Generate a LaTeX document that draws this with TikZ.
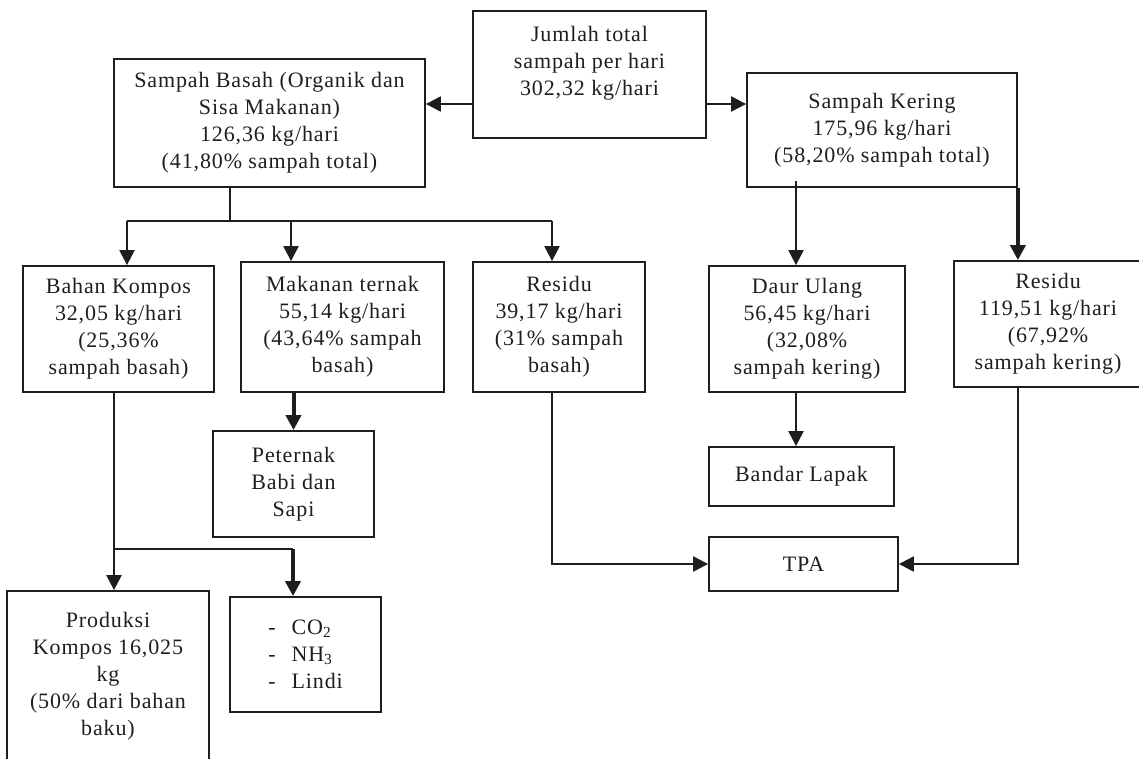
\documentclass[tikz,border=0pt]{standalone}
\usepackage{fontspec}
\setmainfont{Liberation Serif}[LetterSpace=4]
\usetikzlibrary{arrows.meta,calc}
\definecolor{ink}{HTML}{1E1E1E}
\tikzset{
 box/.style={draw=ink, line width=1.8pt, align=center, inner sep=0pt, text=ink, font=\fontsize{22}{27}\selectfont},
 conn/.style={draw=ink, line width=2.2pt},
 arr/.style={conn, -{Triangle[length=15pt,width=15pt]}},
 thickarr/.style={draw=ink, line width=4pt, -{Triangle[length=15pt,width=15pt]}},
}
\begin{document}
\begin{tikzpicture}[x=1pt,y=-1pt]
\useasboundingbox (0,0) rectangle (1139,758);
\clip (0,0) rectangle (1139,758);
\node[box, minimum width=233pt, minimum height=127pt] (jumlah) at (589.5,74.5) {Jumlah total\\sampah per hari\\302,32 kg/hari\\\mbox{}};
\node[box, minimum width=311pt, minimum height=128pt] (basah) at (269.5,123) {Sampah Basah (Organik dan\\Sisa Makanan)\\126,36 kg/hari\\(41,80\% sampah total)};
\node[box, minimum width=270pt, minimum height=114pt] (kering) at (882,130) {Sampah Kering\\175,96 kg/hari\\(58,20\% sampah total)};
\node[box, minimum width=191pt, minimum height=126pt] (bahan) at (118.5,329) {Bahan Kompos\\32,05 kg/hari\\(25,36\%\\sampah basah)};
\node[box, minimum width=203pt, minimum height=130pt] (makanan) at (342.5,327) {Makanan ternak\\55,14 kg/hari\\(43,64\% sampah\\basah)};
\node[box, minimum width=172pt, minimum height=130pt] (residuA) at (559,327) {Residu\\39,17 kg/hari\\(31\% sampah\\basah)};
\node[box, minimum width=196pt, minimum height=126pt] (daur) at (807,329) {Daur Ulang\\56,45 kg/hari\\(32,08\%\\sampah kering)};
\node[box, minimum width=188pt, minimum height=126pt] (residuB) at (1048,324) {Residu\\119,51 kg/hari\\(67,92\%\\sampah kering)};
\node[box, minimum width=161pt, minimum height=106pt] (peternak) at (293.5,484) {Peternak\\Babi dan\\Sapi};
\node[box, minimum width=185pt, minimum height=59pt] (bandar) at (801.5,476.5) {Bandar Lapak};
\node[box, minimum width=189pt, minimum height=54pt] (tpa) at (803.5,564) {TPA};
\node[box, minimum width=202pt, minimum height=171pt] (produksi) at (108,676.5) {Produksi\\Kompos 16,025\\kg\\(50\% dari bahan\\baku)};
\node[box, minimum width=151pt, minimum height=115pt, align=left] (gas) at (305.5,654.5) {-\hspace{16pt}CO\textsubscript{2}\\-\hspace{16pt}NH\textsubscript{3}\\-\hspace{16pt}Lindi};
% connectors
\coordinate (jb) at ($(jumlah.west)+(0,29.5)$);
\coordinate (jk) at ($(jumlah.east)+(0,29.5)$);
\draw[arr] (jb) -- (jb -| basah.east);
\draw[arr] (jk) -- (jk -| kering.west);
\coordinate (bs) at (230,221);
\coordinate (b1) at (127,221);
\coordinate (b2) at (291,221);
\coordinate (b3) at (552,221);
\draw[conn] (bs |- basah.south) -- (bs);
\draw[conn] (b1) -- (b3);
\draw[arr] (b1) -- (b1 |- bahan.north);
\draw[arr] (b2) -- (b2 |- makanan.north);
\draw[arr] (b3) -- (b3 |- residuA.north);
\draw[thickarr] (peternak.north |- makanan.south) -- (peternak.north);
\coordinate (c1) at (114,549);
\coordinate (c2) at (293,549);
\draw[conn] (c1 |- bahan.south) -- (c1) -- (c2);
\draw[arr] (c1) -- (c1 |- produksi.north);
\draw[thickarr] (c2) -- (c2 |- gas.north);
\draw[arr] (b3 |- residuA.south) -- (b3 |- tpa.west) -- (tpa.west);
\coordinate (kd) at (796,181);
\draw[arr] (kd) -- (kd |- daur.north);
\draw[arr] (kd |- daur.south) -- (kd |- bandar.north);
\draw[thickarr] (kering.south east) -- (kering.south east |- residuB.north);
\draw[arr] (kering.south east |- residuB.south) -- (kering.south east |- tpa.east) -- (tpa.east);
\end{tikzpicture}
\end{document}
